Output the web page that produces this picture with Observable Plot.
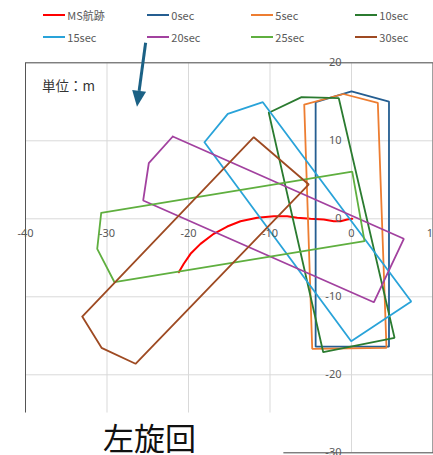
<!DOCTYPE html>
<html><head><meta charset="utf-8">
<script src="https://cdn.jsdelivr.net/npm/d3@7"></script>
<script src="https://cdn.jsdelivr.net/npm/@observablehq/plot@0.6"></script>
<style>
body{margin:0;background:#fff;overflow:hidden;}
#wrap{position:relative;width:433px;height:455px;overflow:hidden;}
#wrap svg{position:absolute;left:0;top:0;overflow:visible;}
.leg{position:absolute;display:flex;align-items:center;font:11px "Noto Sans CJK JP","Noto Sans",sans-serif;color:#595959;white-space:nowrap;transform:translateY(-50%);}
.leg span.sw{display:inline-block;width:22px;height:2px;margin-right:2px;}
</style></head><body><div id="wrap"></div>
<script>
// ---- data ----
const seriesNames = ["MS航跡","0sec","5sec","10sec","15sec","20sec","25sec","30sec"];
const seriesColors = ["#ff0000","#255e91","#ed7d31","#2b7b30","#29a3d9","#a2419f","#5faf3f","#9e4a22"];

const trackX = [0.09,-0.53,-1.35,-2.17,-3.4,-5.03,-6.66,-7.89,-9.53,-11.57,-13.62,-15.25,-16.9,-18.53,-19.75,-20.58,-21.19];
const trackY = [0,-0.09,-0.31,-0.31,-0.09,0,0.13,0.33,0.33,0.13,-0.31,-0.99,-1.92,-3.21,-4.49,-5.77,-6.85];

const sec0X  = [-4.4, 0.0, 4.6, 4.6, -4.4, -4.4];
const sec0Y  = [14.95, 16.33, 15.03, -16.4, -16.4, 14.95];
const sec5X  = [-5.8, -1.0, 3.23, 4.29, -4.82, -5.8];
const sec5Y  = [14.65, 16.0, 14.87, -16.54, -16.67, 14.65];
const sec10X = [-10.15, -6.13, -1.56, 5.28, -3.47, -10.15];
const sec10Y = [13.6, 15.6, 15.46, -15.26, -17.1, 13.6];
const sec15X = [-18.04, -15.18, -10.88, 7.33, -0.04, -18.04];
const sec15Y = [9.82, 13.46, 14.95, -10.6, -15.7, 9.82];
const sec20X = [-21.93, -24.87, -25.56, 2.74, 6.42, -21.93];
const sec20Y = [10.55, 7.13, 2.35, -10.7, -2.56, 10.55];
const sec25X = [-30.71, -31.2, -29.08, 1.6, 0.09, -30.71];
const sec25Y = [0.77, -3.85, -8.13, -2.87, 6.06, 0.77];
const sec30X = [-33.04, -30.67, -26.5, -5.24, -11.99, -33.04];
const sec30Y = [-12.53, -16.54, -18.59, 4.4, 10.46, -12.53];

const xTicks = [-40,-30,-20,-10,0,10];
const yTicks = [20,10,0,-10,-20,-30];
const unitLabel = "単位：m";
const noteLabel = "左旋回";
const arrowFrom = [-25.2, 22.5];
const arrowTo = [-26.26, 14.3];

// ---- build table ----
const seriesXY = [
  [trackX, trackY],[sec0X, sec0Y],[sec5X, sec5Y],[sec10X, sec10Y],
  [sec15X, sec15Y],[sec20X, sec20Y],[sec25X, sec25Y],[sec30X, sec30Y]
];
const rows = [];
seriesXY.forEach(([xs, ys], i) => xs.forEach((x, j) => rows.push({series: seriesNames[i], x, y: ys[j], i: j})));

const numFont = '"Noto Sans", sans-serif';
const chart = Plot.plot({
  width: 433, height: 455,
  marginLeft: 25, marginRight: 0.5, marginTop: 62.3, marginBottom: 2.7,
  x: {domain: [-40, 10], axis: null},
  y: {domain: [-30, 20], axis: null},
  color: {domain: seriesNames, range: seriesColors},
  style: {background: "transparent", overflow: "visible"},
  marks: [
    Plot.ruleX(xTicks, {stroke: "#d9d9d9", strokeWidth: 1, strokeOpacity: 1}),
    Plot.ruleY(yTicks, {stroke: "#d9d9d9", strokeWidth: 1, strokeOpacity: 1}),
    Plot.frame({stroke: "#555", strokeWidth: 1}),
    Plot.line(rows, {x: "x", y: "y", z: "series", stroke: "series",
      strokeWidth: d => d.series === "MS航跡" ? 2 : 1.8, curve: "linear", strokeLinejoin: "miter"}),
    Plot.text(xTicks, {x: d => d, y: 0, dy: 15, text: d => String(d), fill: "#595959", fontSize: 11, fontFamily: numFont}),
    Plot.text(yTicks, {x: 0, y: d => d, dx: -10, textAnchor: "end", text: d => String(d), fill: "#595959", fontSize: 11, fontFamily: numFont}),
    Plot.text([unitLabel], {frameAnchor: "top-left", dx: 16.5, dy: 23.7, lineAnchor: "middle", textAnchor: "start",
      text: d => d, fill: "#333", fontSize: 13.5, fontFamily: '"Noto Sans CJK JP", sans-serif'})
  ]
});

const wrap = document.getElementById("wrap");
wrap.appendChild(chart);

// annotations: arrow and overlay label box
const sx = chart.scale("x"), sy = chart.scale("y");
const svg = d3.select(chart);
const x1 = sx.apply(arrowFrom[0]), y1 = sy.apply(arrowFrom[1]);
const x2 = sx.apply(arrowTo[0]), y2 = sy.apply(arrowTo[1]);
const ang = Math.atan2(y2 - y1, x2 - x1);
const headLen = 16, headW = 7;
const bx = x2 - headLen * Math.cos(ang), by = y2 - headLen * Math.sin(ang);
svg.append("line").attr("x1", x1).attr("y1", y1).attr("x2", bx).attr("y2", by)
  .attr("stroke", "#1b6185").attr("stroke-width", 3);
svg.append("path").attr("fill", "#1b6185").attr("d",
  `M${x2},${y2}L${bx + headW * Math.sin(ang)},${by - headW * Math.cos(ang)}L${bx - headW * Math.sin(ang)},${by + headW * Math.cos(ang)}Z`);

// white label box at bottom-left
const boxTop = sy.apply(-24.9);
const boxRight = sx.apply(-8.3);
svg.append("rect").attr("x", -1).attr("y", boxTop).attr("width", boxRight + 1).attr("height", 60).attr("fill", "#fff");
svg.append("text").attr("x", 149.5).attr("y", boxTop + 24).attr("text-anchor", "middle").attr("dominant-baseline", "central")
  .attr("font-family", '"Noto Sans CJK JP", sans-serif').attr("font-size", 31).attr("fill", "#111").text(noteLabel);

// legend
seriesNames.forEach((name, i) => {
  const col = i % 4, row = Math.floor(i / 4);
  const d = document.createElement("div");
  d.className = "leg";
  d.style.left = (43.3 + col * 104) + "px";
  d.style.top = (row === 0 ? 14.5 : 37) + "px";
  d.innerHTML = `<span class="sw" style="background:${seriesColors[i]}"></span>${name}`;
  wrap.appendChild(d);
});
</script></body></html>
